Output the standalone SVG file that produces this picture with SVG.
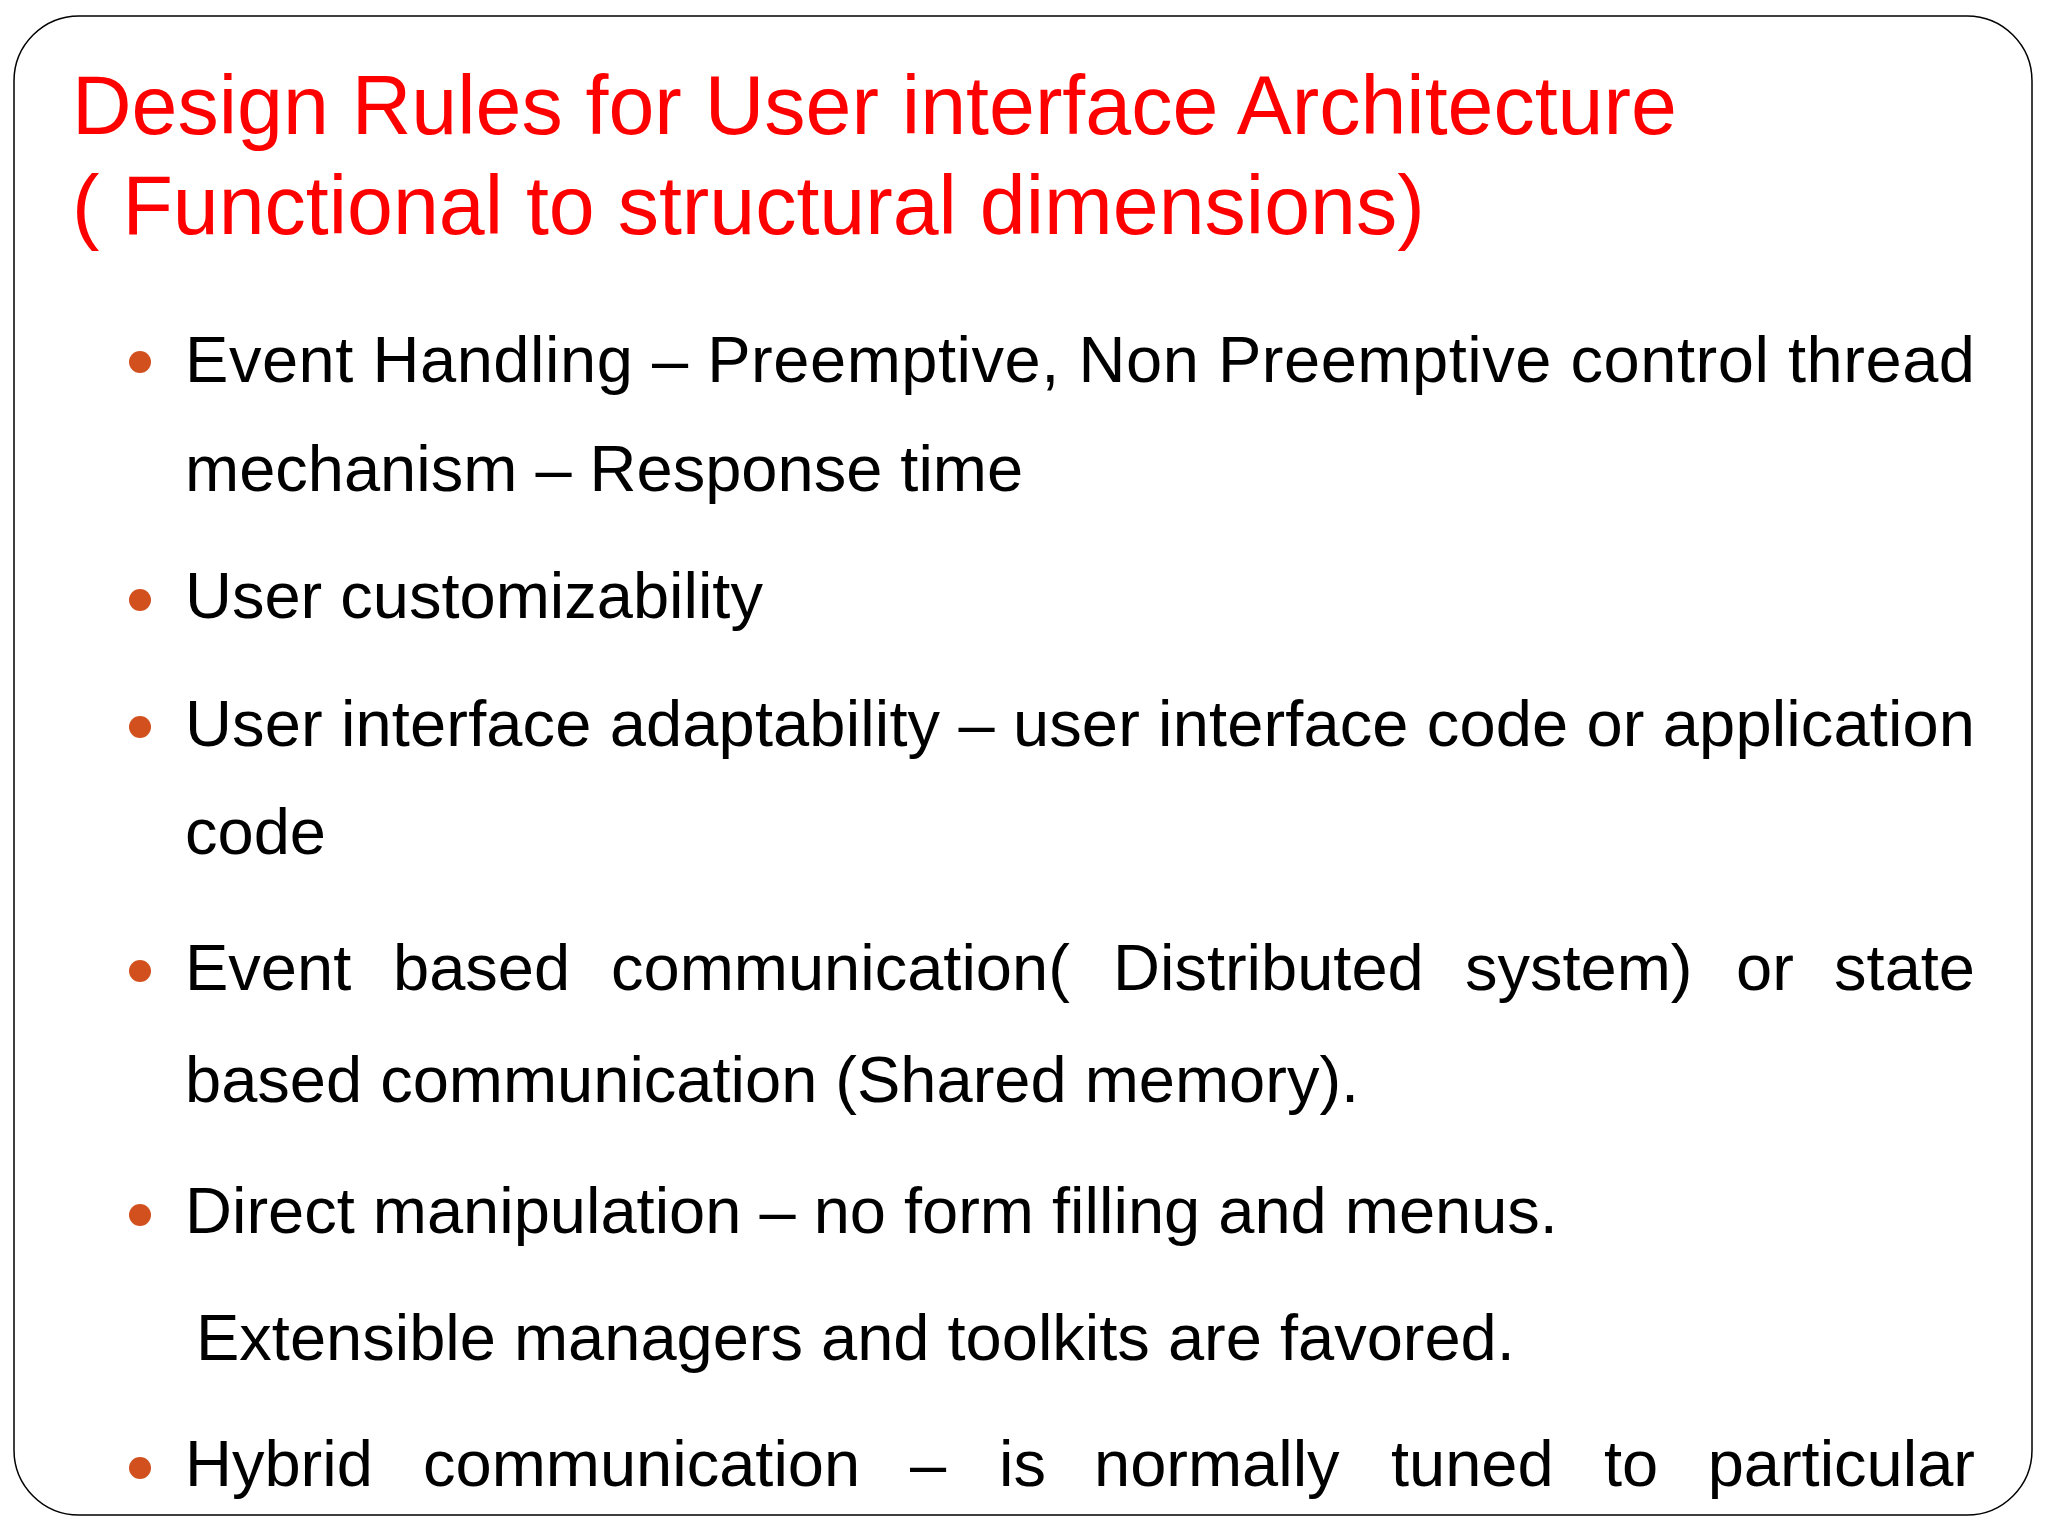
<svg xmlns="http://www.w3.org/2000/svg" width="2048" height="1536" viewBox="0 0 2048 1536">
<style>
.t{font-family:"Liberation Sans",Arial,sans-serif;font-size:82.5px;fill:#ff0000}
.b{font-family:"Liberation Sans",Arial,sans-serif;font-size:65px;fill:#000}
.d{fill:#d2501e}
</style>
<rect width="2048" height="1536" fill="#fff"/>
<rect x="14" y="16" width="2018" height="1499" rx="65" fill="#fff" stroke="#000" stroke-width="1.5"/>
<g id="title">
<text class="t" x="72" y="134">Design Rules for User interface Architecture</text>
<text class="t" x="72" y="234">( Functional to structural dimensions)</text>
</g>
<g id="bullets">
<circle class="d" cx="140" cy="362" r="11"/>
<circle class="d" cx="140" cy="600" r="11"/>
<circle class="d" cx="140" cy="727" r="11"/>
<circle class="d" cx="140" cy="971" r="11"/>
<circle class="d" cx="140" cy="1215" r="11"/>
<circle class="d" cx="140" cy="1468" r="11"/>
</g>
<g id="body">
<text class="b" x="185" y="382" textLength="1790" lengthAdjust="spacing">Event Handling – Preemptive, Non Preemptive control thread</text>
<text class="b" x="185" y="491">mechanism – Response time</text>
<text class="b" x="185" y="618">User customizability</text>
<text class="b" x="185" y="746" textLength="1790" lengthAdjust="spacing">User interface adaptability – user interface code or application</text>
<text class="b" x="185" y="854">code</text>
<text class="b" y="990"><tspan x="185">Event</tspan><tspan x="393">based</tspan><tspan x="611">communication(</tspan><tspan x="1113">Distributed</tspan><tspan x="1465">system)</tspan><tspan x="1736">or</tspan></text>
<text class="b" x="1975" y="990" text-anchor="end">state</text>
<text class="b" x="185" y="1102">based communication (Shared memory).</text>
<text class="b" x="185" y="1233">Direct manipulation – no form filling and menus.</text>
<text class="b" x="196" y="1360">Extensible managers and toolkits are favored.</text>
<text class="b" y="1486"><tspan x="185">Hybrid</tspan><tspan x="423">communication</tspan><tspan x="910">–</tspan><tspan x="999">is</tspan><tspan x="1094">normally</tspan><tspan x="1391">tuned</tspan><tspan x="1604">to</tspan></text>
<text class="b" x="1975" y="1486" text-anchor="end">particular</text>
</g>
</svg>
